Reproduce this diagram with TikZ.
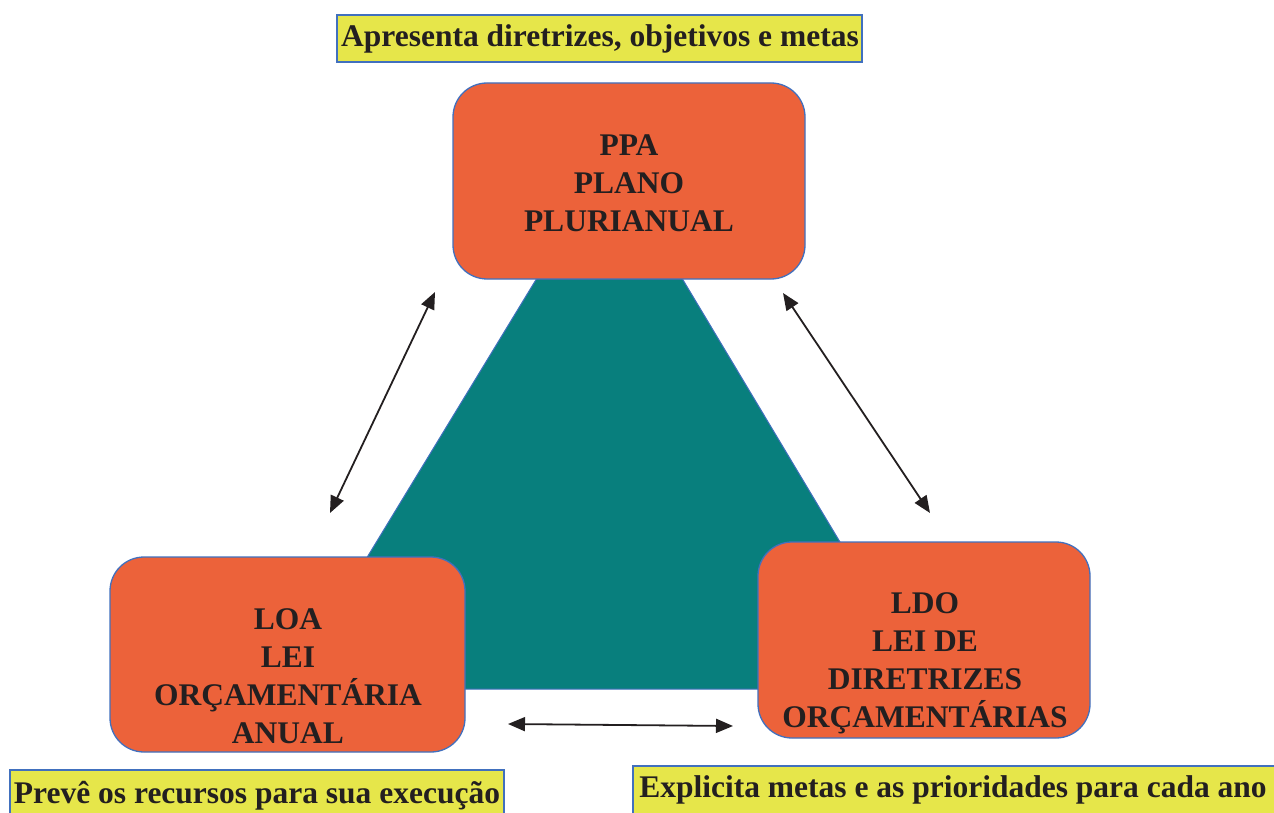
\documentclass[tikz,border=0pt]{standalone}
\usepackage{fontspec}
\setmainfont{Liberation Serif}
\usetikzlibrary{arrows.meta}
\definecolor{boxorange}{HTML}{EC623A}
\definecolor{teal2}{HTML}{087F7D}
\definecolor{lblyellow}{HTML}{E6E64A}
\definecolor{edgeblue}{HTML}{4170BE}
\definecolor{ink}{HTML}{231F20}
\begin{document}
\begin{tikzpicture}[x=1pt,y=-1pt,
  mainbox/.style={draw=edgeblue, line width=1.3pt, fill=boxorange, rounded corners=34pt, inner sep=0pt},
  lblbox/.style={draw=edgeblue, line width=1.3pt, fill=lblyellow, inner sep=0pt},
  boxtext/.style={text=ink, font=\fontsize{31.5}{38}\selectfont\bfseries, align=center, inner sep=0pt, anchor=base},
  lbltext/.style={text=ink, font=\fontsize{31.5}{38}\selectfont\bfseries, inner sep=0pt, anchor=base},
  dblarrow/.style={ink, line width=1.8pt, {Triangle[length=17pt,width=14pt]}-{Triangle[length=17pt,width=14pt]}}
]
\useasboundingbox (0,0) rectangle (1274,813);
% triangle
\draw[fill=teal2, draw=edgeblue, line width=1pt] (610,158) -- (287,689) -- (928,689) -- cycle;
% boxes
\node[mainbox, minimum width=352pt, minimum height=196pt] (ppa) at (629,181) {};
\node[mainbox, minimum width=355pt, minimum height=195pt] (loa) at (287.5,654.5) {};
\node[mainbox, minimum width=332pt, minimum height=196pt] (ldo) at (924,640) {};
\node[boxtext] (ppat) at (629,232) {PPA\\PLANO\\PLURIANUAL};
\node[boxtext] (loat) at (288,743) {LOA\\LEI\\ORÇAMENTÁRIA\\ANUAL};
\node[boxtext] (ldot) at (925,727) {LDO\\LEI DE\\DIRETRIZES\\ORÇAMENTÁRIAS};
% labels
\node[lblbox, minimum width=525pt, minimum height=47pt] (lt) at (599.5,38.5) {};
\node[lbltext] (ltt) at (600,47) {Apresenta diretrizes, objetivos e metas};
\node[lblbox, minimum width=494pt, minimum height=60pt] (lbl) at (257,800) {};
\node[lbltext] (lblt) at (257,803) {Prevê os recursos para sua execução};
\node[lblbox, minimum width=650pt, minimum height=60pt] (lbr) at (958,796) {};
\node[lbltext] (lbrt) at (953,797) {Explicita metas e as prioridades para cada ano};
% arrows
\coordinate (a1) at (435,292); \coordinate (a2) at (330,513);
\coordinate (b1) at (783,293); \coordinate (b2) at (930,513);
\coordinate (c1) at (508,724); \coordinate (c2) at (733,726);
\draw[dblarrow] (a1) -- (a2);
\draw[dblarrow] (b1) -- (b2);
\draw[dblarrow] (c1) -- (c2);
\end{tikzpicture}
\end{document}
